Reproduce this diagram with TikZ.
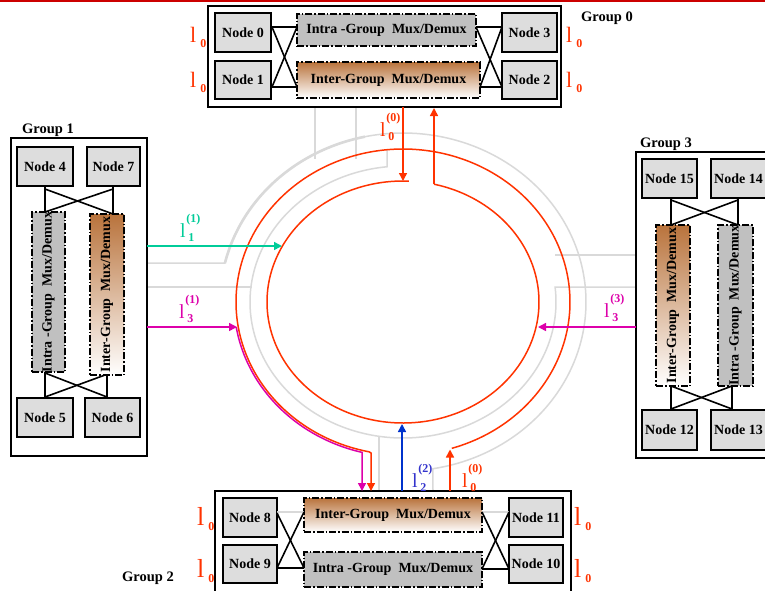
\documentclass[tikz,border=0pt]{standalone}
\usepackage{fontspec}
\setmainfont{Liberation Serif}
\usetikzlibrary{arrows.meta}
\definecolor{ringred}{RGB}{255,51,0}
\definecolor{lgrey}{RGB}{217,217,217}
\definecolor{nodegrey}{RGB}{221,221,221}
\definecolor{muxgrey}{RGB}{192,192,192}
\definecolor{muxbrown}{RGB}{185,115,60}
\definecolor{lgreen}{RGB}{0,204,153}
\definecolor{lmag}{RGB}{221,0,170}
\definecolor{lblue}{RGB}{0,51,204}
\definecolor{lbluetxt}{RGB}{51,51,204}
\definecolor{topred}{RGB}{204,0,0}
\newcommand{\Lz}[1]{{\fontsize{#1}{#1}\selectfont l}\kern4pt\raisebox{-5pt}{\fontsize{12}{12}\selectfont\bfseries 0}}
\newcommand{\Lb}[2]{{\fontsize{20}{20}\selectfont l}\kern0.5pt\rlap{\raisebox{15pt}{\fontsize{12}{12}\selectfont\bfseries #1}}\kern2pt\raisebox{-4pt}{\fontsize{12}{12}\selectfont\bfseries #2}}
\tikzset{
  nodebox/.style={draw=black, line width=1.4pt, fill=nodegrey, inner sep=0pt, font=\fontsize{14}{14}\selectfont\bfseries},
  groupbox/.style={draw=black, line width=1.6pt, inner sep=0pt},
  muxintra/.style={draw=black, line width=1.3pt, dash pattern=on 7pt off 2pt on 1.5pt off 2pt, fill=muxgrey, inner sep=0pt},
  muxinter/.style={draw=black, line width=1.3pt, dash pattern=on 7pt off 2pt on 1.5pt off 2pt, top color=muxbrown, bottom color=white, inner sep=0pt},
  muxtext/.style={font=\fontsize{14}{14}\selectfont\bfseries, inner sep=0pt},
  wire/.style={line width=1.6pt, black},
  gline/.style={lgrey, line width=1.5pt},
  ring/.style={ringred, line width=1.5pt},
  arr/.style={-{Triangle[length=8pt,width=8pt]}},
  grouplabel/.style={font=\fontsize{14.5}{14.5}\selectfont\bfseries, anchor=west, inner sep=0pt},
  lab/.style={anchor=base west, inner sep=0pt}
}
\begin{document}
\begin{tikzpicture}[x=1pt,y=-1pt]
\useasboundingbox (0,0) rectangle (765,590);
\clip (0,0) rectangle (765,590);
\fill[white] (0,0) rectangle (765,590);
\draw[topred, line width=1.6pt] (0,0.8) -- (765,0.8);

% ---------- grey guide lines ----------
\draw[gline] (147,263) -- plot[smooth, domain=193.3:440.6, samples=120] ({403+183*cos(\x)},{302+169*sin(\x)}) -- (433,491);
\draw[lgrey, line width=2.6pt] plot[smooth, domain=193.3:258, samples=60] ({403+183*cos(\x)},{302+169*sin(\x)});
\draw[gline] (387,150) -- plot[smooth, domain=264:-6.3, samples=120] ({403+153*cos(\x)},{302+136*sin(\x)}) -- (636,287);
\draw[gline] (147,287) -- (252,287);
\draw[gline] (555,255) -- (636,255);
\draw[gline] (379,436) -- (379,491);
\draw[gline] (315,107) -- (315,159);
\draw[gline] (356,107) -- (356,159);

% ---------- Group 0 ----------
\node[groupbox, minimum width=353pt, minimum height=101pt] (g0) at (384.5,56.5) {};
\node[grouplabel] (g0l) at (581,18) {Group 0};
\node[nodebox, minimum width=56pt, minimum height=39pt] (n0) at (243,32.5) {Node 0};
\node[nodebox, minimum width=56pt, minimum height=38pt] (n1) at (243,80) {Node 1};
\node[muxintra, minimum width=179pt, minimum height=32pt] (m0a) at (386.5,30) {};
\node[muxtext] at (m0a.center) {Intra -Group\ \ Mux/Demux};
\node[muxinter, minimum width=183pt, minimum height=36pt] (m0b) at (388.5,80) {};
\node[muxtext] at (m0b.center) {Inter-Group\ \ Mux/Demux};
\node[nodebox, minimum width=55pt, minimum height=39pt] (n3) at (529.5,32.5) {Node 3};
\node[nodebox, minimum width=55pt, minimum height=38pt] (n2) at (529.5,80) {Node 2};
\draw[wire] (271,27) -- (297,27);
\draw[wire] (271,87) -- (297,87);
\draw[wire] (272,27) -- (297,87);
\draw[wire] (272,87) -- (297,27);
\draw[wire] (476,27) -- (502,27);
\draw[wire] (480,87) -- (502,87);
\draw[wire] (476,27) -- (502,87);
\draw[wire] (480,87) -- (502,27);
\node[lab, text=ringred] at (190,42) {\Lz{22}};
\node[lab, text=ringred] at (190,87) {\Lz{22}};
\node[lab, text=ringred] at (566,42) {\Lz{22}};
\node[lab, text=ringred] at (566,87) {\Lz{22}};

% ---------- Group 1 ----------
\node[groupbox, minimum width=136pt, minimum height=318pt] (g1) at (79,297) {};
\node[grouplabel] (g1l) at (22,130) {Group 1};
\node[nodebox, minimum width=56pt, minimum height=39pt] (n4) at (45,166.5) {Node 4};
\node[nodebox, minimum width=53pt, minimum height=39pt] (n7) at (113.5,166.5) {Node 7};
\node[muxintra, minimum width=33pt, minimum height=160pt] (m1a) at (48.5,292) {};
\node[muxtext, rotate=90] at (m1a.center) {Intra -Group\ \ Mux/Demux};
\node[muxinter, minimum width=34pt, minimum height=161pt] (m1b) at (107,294.5) {};
\node[muxtext, rotate=90] at (m1b.center) {Inter-Group\ \ Mux/Demux};
\node[nodebox, minimum width=56pt, minimum height=39pt] (n5) at (45,417.5) {Node 5};
\node[nodebox, minimum width=55pt, minimum height=39pt] (n6) at (112.5,417.5) {Node 6};
\draw[wire] (45,186) -- (45,212);
\draw[wire] (113,186) -- (113,214);
\draw[wire] (45,189) -- (113,214);
\draw[wire] (113,189) -- (45,212);
\draw[wire] (45,372) -- (45,398);
\draw[wire] (107,375) -- (107,398);
\draw[wire] (45,373) -- (107,397);
\draw[wire] (105,375) -- (45,397);

% ---------- Group 3 ----------
\node[groupbox, minimum width=139pt, minimum height=306pt] (g3) at (705.5,305) {};
\node[grouplabel] (g3l) at (640,144) {Group 3};
\node[nodebox, minimum width=55pt, minimum height=39pt] (n15) at (669.5,178.5) {Node 15};
\node[nodebox, minimum width=55pt, minimum height=39pt] (n14) at (738.5,178.5) {Node 14};
\node[muxinter, minimum width=34pt, minimum height=161pt] (m3a) at (673,305.5) {};
\node[muxtext, rotate=90] at (m3a.center) {Inter-Group\ \ Mux/Demux};
\node[muxintra, minimum width=35pt, minimum height=161pt] (m3b) at (735.5,305.5) {};
\node[muxtext, rotate=90] at (m3b.center) {Intra -Group\ \ Mux/Demux};
\node[nodebox, minimum width=55pt, minimum height=40pt] (n12) at (669.5,430) {Node 12};
\node[nodebox, minimum width=55pt, minimum height=40pt] (n13) at (738.5,430) {Node 13};
\draw[wire] (671,198) -- (671,225);
\draw[wire] (738,198) -- (738,225);
\draw[wire] (671,200) -- (738,225);
\draw[wire] (738,200) -- (671,225);
\draw[wire] (671,386) -- (671,410);
\draw[wire] (732,386) -- (732,410);
\draw[wire] (671,386) -- (732,409);
\draw[wire] (732,386) -- (671,409);

% ---------- Group 2 ----------
\node[groupbox, minimum width=356pt, minimum height=109pt] (g2) at (393,545.5) {};
\node[grouplabel] (g2l) at (122,578) {Group 2};
\node[nodebox, minimum width=54pt, minimum height=39pt] (n8) at (250,517.5) {Node 8};
\node[nodebox, minimum width=54pt, minimum height=38pt] (n9) at (250,564) {Node 9};
\node[muxinter, minimum width=178pt, minimum height=34pt] (m2a) at (393,515) {};
\node[muxtext] at (m2a.center) {Inter-Group\ \ Mux/Demux};
\node[muxintra, minimum width=178pt, minimum height=35pt] (m2b) at (393,569.5) {};
\node[muxtext] at (m2b.center) {Intra -Group\ \ Mux/Demux};
\node[nodebox, minimum width=54pt, minimum height=39pt] (n11) at (536,517.5) {Node 11};
\node[nodebox, minimum width=54pt, minimum height=38pt] (n10) at (536,564) {Node 10};
\draw[gline] (277,512) -- (304,512);
\draw[gline] (482,512) -- (509,512);
\draw[wire] (277,568) -- (304,568);
\draw[wire] (277,513) -- (304,568);
\draw[wire] (277,568) -- (304,512);
\draw[wire] (482,569) -- (509,569);
\draw[wire] (482,512) -- (509,569);
\draw[wire] (482,569) -- (509,512);
\node[lab, text=ringred] at (197,525) {\Lz{26}};
\node[lab, text=ringred] at (197,577) {\Lz{26}};
\node[lab, text=ringred] at (574,525) {\Lz{26}};
\node[lab, text=ringred] at (574,577) {\Lz{26}};

% ---------- ring ----------
\coordinate (g0in) at (403,107);
\coordinate (g0out) at (434,108);
\draw[lmag, line width=1.5pt, arr] plot[smooth, domain=170.7:104, samples=60] ({403+169*cos(\x)},{302+155*sin(\x)}) -- (362,453) -- (362,491);
\draw[ring, arr] plot[smooth, domain=433:101.7, samples=150] ({403+167*cos(\x)},{302+153*sin(\x)}) -- (371,453) -- (371,491);
\draw[ring, arr] (450,491) -- (450,449.5);
\draw[ring] plot[smooth, domain=283.2:632.5, samples=150] ({403+136*cos(\x)},{302+121*sin(\x)});
\draw[ring, arr] (g0in) -- (403,181);
\draw[ring, arr] (434,184) -- (g0out);
\draw[lgreen, line width=1.5pt, arr] (147,246) -- (282,246);
\draw[lmag, line width=1.5pt, arr] (147,327) -- (237,327);
\draw[lmag, line width=1.5pt, arr] (636,327) -- (538,327);
\draw[lblue, line width=1.5pt, arr] (402,491) -- (402,424);

% ---------- ring labels ----------
\node[lab, text=ringred] at (380,136) {\Lb{(0)}{0}};
\node[lab, text=lgreen] at (180,237) {\Lb{(1)}{1}};
\node[lab, text=lmag] at (179,318) {\Lb{(1)}{3}};
\node[lab, text=lmag] at (604,317) {\Lb{(3)}{3}};
\node[lab, text=lbluetxt] at (412,487) {\Lb{(2)}{2}};
\node[lab, text=ringred] at (462,487) {\Lb{(0)}{0}};
\end{tikzpicture}
\end{document}
